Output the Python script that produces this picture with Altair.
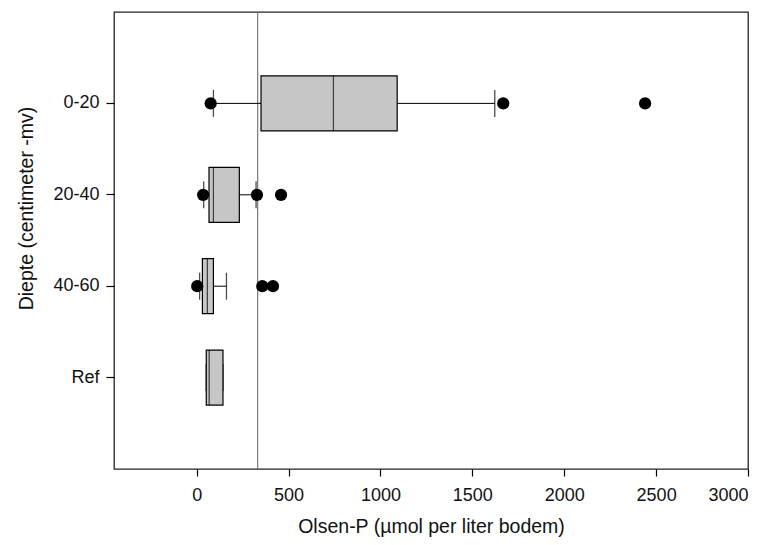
import altair as alt
import pandas as pd

categories = ["0-20", "20-40", "40-60", "Ref"]
q1 = [350, 67, 31, 52]
median = [744, 91, 58, 68]
q3 = [1091, 232, 91, 143]
whisker_low = [91, 38, 16, 52]
whisker_high = [1622, 323, 162, 143]

outlier_cat = ["0-20", "0-20", "0-20", "20-40", "20-40", "20-40", "40-60", "40-60", "40-60"]
outlier_val = [76, 1668, 2440, 35, 328, 459, 3, 357, 415]

reference_value = [332]
x_ticks = [0, 500, 1000, 1500, 2000, 2500, 3000]

boxes = pd.DataFrame({
    "cat": categories, "q1": q1, "median": median, "q3": q3,
    "lo": whisker_low, "hi": whisker_high,
})
outl = pd.DataFrame({"cat": outlier_cat, "val": outlier_val})
refdf = pd.DataFrame({"ref": reference_value})

FONT = "Liberation Sans"

xscale = alt.Scale(domain=[-450, 3000], nice=False, zero=False)
yscale = alt.Scale(domain=categories, paddingInner=0, paddingOuter=0.5)

xaxis = alt.Axis(
    values=x_ticks, format="d", title="Olsen-P (µmol per liter bodem)", grid=False,
    domain=False, tickSize=7, tickColor="black", tickWidth=1.2, labelPadding=10,
    labelFontSize=18, labelColor="#111", labelFont=FONT,
    titleFontSize=19.5, titleFont=FONT, titleFontWeight="normal", titleColor="#111",
    titlePadding=13,
)
yaxis = alt.Axis(
    title="Diepte (centimeter -mv)", grid=False, domain=False, tickSize=8,
    tickColor="black", tickWidth=1.2, labelPadding=7, labelFontSize=18, labelColor="#111",
    labelFont=FONT, titleFontSize=19.5, titleFont=FONT, titleFontWeight="normal",
    titleColor="#111", bandPosition=0.5, titleX=-88, titleY=196,
    titleBaseline="middle", titleAngle=270,
)

ref = alt.Chart(refdf).mark_rule(color="#606060", strokeWidth=1).encode(
    x=alt.X("ref:Q", scale=xscale, axis=xaxis)
)

whisk = alt.Chart(boxes).mark_rule(color="black", strokeWidth=1).encode(
    x=alt.X("lo:Q", scale=xscale, axis=xaxis),
    x2="hi:Q",
    y=alt.Y("cat:N", scale=yscale, axis=yaxis, sort=categories),
)
cap_lo = alt.Chart(boxes).mark_tick(color="black", size=27, thickness=1.3).encode(
    x=alt.X("lo:Q", scale=xscale),
    y=alt.Y("cat:N", scale=yscale, sort=categories),
)
cap_hi = alt.Chart(boxes).mark_tick(color="black", size=27, thickness=1.3).encode(
    x=alt.X("hi:Q", scale=xscale),
    y=alt.Y("cat:N", scale=yscale, sort=categories),
)
box = alt.Chart(boxes).mark_bar(
    fill="#c6c6c6", stroke="black", strokeWidth=1.2, size=55
).encode(
    x=alt.X("q1:Q", scale=xscale),
    x2="q3:Q",
    y=alt.Y("cat:N", scale=yscale, sort=categories),
)
med = alt.Chart(boxes).mark_tick(color="black", size=55, thickness=1.2).encode(
    x=alt.X("median:Q", scale=xscale),
    y=alt.Y("cat:N", scale=yscale, sort=categories),
)
pts = alt.Chart(outl).mark_circle(color="black", opacity=1, size=150).encode(
    x=alt.X("val:Q", scale=xscale),
    y=alt.Y("cat:N", scale=yscale, sort=categories),
)

chart = alt.layer(ref, whisk, cap_lo, cap_hi, box, med, pts).properties(
    width=634, height=457,
    autosize=alt.AutoSizeParams(type="none"),
    padding={"left": 106, "top": 4, "right": 13, "bottom": 68},
    background="white",
).configure_view(stroke="#222", strokeWidth=1.3)

chart.save("out.html", embed_options={"renderer": "svg", "actions": False})
